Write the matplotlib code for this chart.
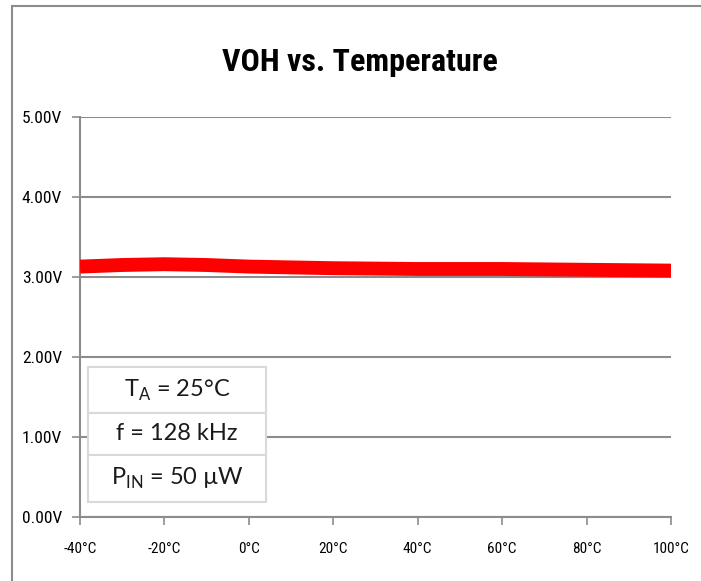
import matplotlib
matplotlib.use('Agg')
import matplotlib.pyplot as plt
from matplotlib import font_manager
from matplotlib.patches import Rectangle

# data
temps = [-40, -30, -20, -10, 0, 20, 40, 60, 80, 100]
voh = [3.13, 3.15, 3.16, 3.15, 3.13, 3.11, 3.10, 3.10, 3.09, 3.08]
x_ticks = [-40, -20, 0, 20, 40, 60, 80, 100]
y_ticks = [0, 1, 2, 3, 4, 5]
notes = [r"T$_\mathrm{A}$ = 25°C", "f = 128 kHz", r"P$_\mathrm{IN}$ = 50 µW"]

# pick a narrow font if one is there
names = {f.name for f in font_manager.fontManager.ttflist}
candidates = ["Liberation Sans Narrow", "Roboto Condensed", "Open Sans Condensed",
              "DejaVu Sans Condensed", "Noto Sans", "Liberation Sans"]
font = next(n for n in candidates if n in names)
box_font = "Lato" if "Lato" in names else "Liberation Sans"
plt.rcParams['font.family'] = [font, 'DejaVu Sans']
plt.rcParams['mathtext.fontset'] = 'custom'
plt.rcParams['mathtext.rm'] = box_font

fig = plt.figure(figsize=(7.01, 5.81), dpi=100)
ax = fig.add_axes([80 / 701, 64 / 581, 591 / 701, 400 / 581])

# outer chart border
fig.patches.append(Rectangle((12 / 701, -0.1), 1.1, 1.1 - 6 / 581,
                             transform=fig.transFigure, fill=False,
                             edgecolor="#8c8c8c", linewidth=1.5))

ax.plot(temps, voh, color="#ff0000", linewidth=10, solid_capstyle="butt", zorder=3)

ax.set_xlim(-40, 100)
ax.set_ylim(0, 5)
ax.set_xticks(x_ticks)
ax.set_xticklabels([f"{t}°C" for t in x_ticks])
ax.set_yticks(y_ticks)
ax.set_yticklabels([f"{v:.2f}V" for v in y_ticks])
ax.tick_params(axis="both", colors="#8c8c8c", labelcolor="black",
               length=6, width=1.2)
ax.tick_params(axis="x", pad=12, labelsize=11)
ax.tick_params(axis="y", pad=7, labelsize=12.5)
ax.grid(axis="y", color="#8c8c8c", linewidth=1.5)
ax.set_axisbelow(True)
for side in ["top", "right"]:
    ax.spines[side].set_visible(False)
for side in ["left", "bottom"]:
    ax.spines[side].set_color("#8c8c8c")
    ax.spines[side].set_linewidth(1.5)

fig.text(0.513, 0.893, "VOH vs. Temperature", ha="center", va="center",
         fontsize=23, fontweight="bold")

# condition box
bx0, bx1 = 0.0135, 0.315
rows = [(0.26, 0.375), (0.155, 0.26), (0.0375, 0.155)]
for (y0, y1), txt in zip(rows, notes):
    ax.add_patch(Rectangle((bx0, y0), bx1 - bx0, y1 - y0, transform=ax.transAxes,
                           facecolor="white", edgecolor="#d9d9d9", linewidth=1.5,
                           zorder=4))
    ax.text((bx0 + bx1) / 2, (y0 + y1) / 2, txt, transform=ax.transAxes,
            ha="center", va="center", fontsize=17, color="#1a1a1a", zorder=5,
            family=[box_font, 'DejaVu Sans'])

fig.savefig("out.png", dpi=100)
